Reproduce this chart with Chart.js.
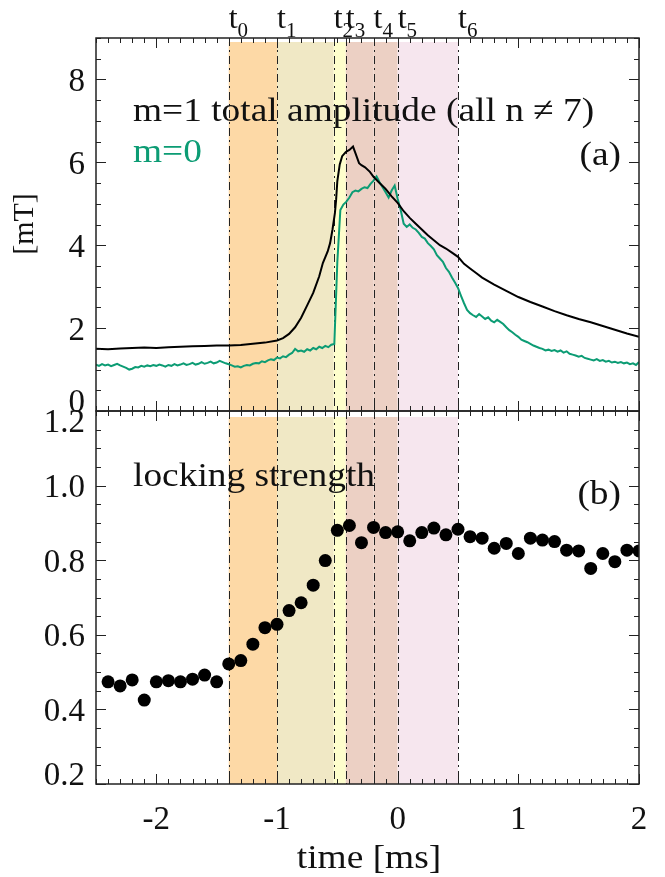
<!DOCTYPE html>
<html>
<head>
<meta charset="utf-8">
<title>m=1 amplitude and locking strength</title>
<script src="https://cdn.jsdelivr.net/npm/chart.js@4.4.1/dist/chart.umd.min.js"></script>
<style>
  html, body { margin: 0; padding: 0; background: #fff; }
  #wrap { position: relative; width: 665px; height: 877px; }
  #wrap canvas { position: absolute; left: 0; }
  #ampChart { top: 0; }
  #lockChart { top: 400px; }
</style>
</head>
<body>
<div id="wrap">
  <canvas id="ampChart" width="665" height="420"></canvas>
  <canvas id="lockChart" width="665" height="477"></canvas>
</div>
<script>
// ===============================
// DATA
// ===============================
const timeTicks = [-2, -1, 0, 1, 2];
const ampTicks = [0, 2, 4, 6, 8];
const lockTicks = [0.2, 0.4, 0.6, 0.8, 1.0, 1.2];

// phase markers t0..t6 [ms]
const phaseNames = ["0", "1", "2", "3", "4", "5", "6"];
const phaseTimes = [-1.4, -1.0, -0.53, -0.43, -0.2, 0.0, 0.5];

// m=1 total amplitude [mT]
const m1Time = [
  -2.50, -2.40, -2.30, -2.20, -2.10, -2.00, -1.90, -1.80, -1.70, -1.60,
  -1.50, -1.40, -1.30, -1.20, -1.10, -1.00, -0.95, -0.90, -0.85, -0.80,
  -0.75, -0.70, -0.65, -0.62, -0.58, -0.56, -0.54, -0.52, -0.51, -0.50,
  -0.48, -0.46, -0.43, -0.40, -0.37, -0.35, -0.32, -0.30, -0.27, -0.23,
  -0.20, -0.15, -0.10, -0.05, 0.00, 0.05, 0.10, 0.15, 0.20, 0.25,
  0.30, 0.35, 0.40, 0.45, 0.50, 0.55, 0.60, 0.65, 0.70, 0.80,
  0.90, 1.00, 1.10, 1.20, 1.30, 1.40, 1.50, 1.60, 1.70, 1.80,
  1.90, 2.00
];
const m1Amp = [
  1.50, 1.49, 1.51, 1.52, 1.53, 1.52, 1.54, 1.55, 1.56, 1.57,
  1.58, 1.58, 1.59, 1.62, 1.65, 1.70, 1.76, 1.86, 2.02, 2.25,
  2.55, 2.85, 3.25, 3.57, 3.85, 4.05, 4.38, 4.78, 5.10, 5.55,
  5.95, 6.15, 6.25, 6.30, 6.38, 6.22, 5.98, 5.93, 5.88, 5.77,
  5.65, 5.50, 5.36, 5.18, 5.02, 4.82, 4.66, 4.52, 4.38, 4.24,
  4.12, 4.00, 3.92, 3.82, 3.72, 3.55, 3.44, 3.33, 3.22, 3.05,
  2.90, 2.75, 2.63, 2.52, 2.41, 2.31, 2.22, 2.14, 2.05, 1.96,
  1.87, 1.79
];

// m=0 amplitude [mT], sampled every 0.025 ms from -2.5 ms
const m0Start = -2.5;
const m0Step = 0.025;
const m0Amp = [
  1.12, 1.09, 1.13, 1.10, 1.12, 1.08, 1.11, 1.14, 1.10, 1.07,
  1.04, 1.00, 1.02, 1.06, 1.05, 1.09, 1.07, 1.10, 1.08, 1.11,
  1.09, 1.12, 1.10, 1.07, 1.11, 1.09, 1.13, 1.10, 1.12, 1.15,
  1.11, 1.13, 1.16, 1.12, 1.14, 1.18, 1.14, 1.16, 1.19, 1.15,
  1.17, 1.21, 1.18, 1.15, 1.13, 1.10, 1.07, 1.08, 1.05, 1.09,
  1.11, 1.10, 1.14, 1.16, 1.15, 1.20, 1.18, 1.22, 1.25, 1.23,
  1.29, 1.27, 1.32, 1.30, 1.36, 1.40, 1.50, 1.44, 1.46, 1.43,
  1.49, 1.46, 1.52, 1.49, 1.55, 1.52, 1.57, 1.54, 1.60, 1.62,
  3.60, 4.85, 4.98, 5.05, 5.15, 5.28, 5.32, 5.30, 5.36, 5.40,
  5.38, 5.48, 5.56, 5.66, 5.52, 5.40, 5.28, 5.15, 5.32, 5.44,
  5.12, 4.85, 4.52, 4.44, 4.50, 4.42, 4.38, 4.30, 4.20, 4.16,
  4.05, 3.98, 3.90, 3.76, 3.68, 3.60, 3.45, 3.36, 3.22, 3.10,
  2.97, 2.78, 2.60, 2.44, 2.36, 2.31, 2.27, 2.34, 2.28, 2.22,
  2.26, 2.18, 2.14, 2.20, 2.15, 2.10, 2.02, 1.95, 1.90, 1.84,
  1.79, 1.72, 1.69, 1.66, 1.62, 1.58, 1.55, 1.52, 1.50, 1.46,
  1.48, 1.45, 1.47, 1.43, 1.46, 1.41, 1.44, 1.38, 1.36, 1.34,
  1.31, 1.33, 1.28, 1.26, 1.24, 1.22, 1.25, 1.21, 1.23, 1.19,
  1.21, 1.17, 1.19, 1.16, 1.18, 1.15, 1.17, 1.13, 1.15, 1.11,
  1.18
];

// locking strength
const lockTime = [
  -2.4, -2.3, -2.2, -2.1, -2.0, -1.9, -1.8, -1.7, -1.6, -1.5,
  -1.4, -1.3, -1.2, -1.1, -1.0, -0.9, -0.8, -0.7, -0.6, -0.5,
  -0.4, -0.3, -0.2, -0.1, 0.0, 0.1, 0.2, 0.3, 0.4, 0.5,
  0.6, 0.7, 0.8, 0.9, 1.0, 1.1, 1.2, 1.3, 1.4, 1.5,
  1.6, 1.7, 1.8, 1.9, 2.0
];
const lockValue = [
  0.474, 0.463, 0.479, 0.425, 0.474, 0.477, 0.474, 0.481, 0.492, 0.474,
  0.522, 0.531, 0.575, 0.619, 0.628, 0.665, 0.686, 0.733, 0.799, 0.880,
  0.893, 0.847, 0.888, 0.874, 0.876, 0.852, 0.874, 0.886, 0.868, 0.883,
  0.863, 0.859, 0.832, 0.845, 0.818, 0.859, 0.854, 0.850, 0.827, 0.825,
  0.778, 0.818, 0.796, 0.827, 0.825
];

// ===============================
// STYLE
// ===============================
const SERIF = '"Liberation Serif", "Times New Roman", "DejaVu Serif", serif';
const INK = "#111";
const GREEN = "#0c9c74";
// t0-t1, t1-t2, t2-t3, t3-t4, t4-t5, t5-t6
const BAND_COLORS = ["#fdd9a6", "#f0e8c5", "#fefecc", "#ecd0c4", "#ecd0c4", "#f6e6ee"];
const WIDE = 1.1;   // the annotation lettering runs a little wide

// per-canvas panel settings (kept outside chart options so nothing gets resolved as scriptable)
const panels = {
  ampChart: {
    bandInset: 4,
    yTicks: ampTicks,
    yDecimals: 0,
    yMinorStep: 0.5, yMinorFrom: 0, yMinorTo: 18, yMajorEvery: 4,
    showTime: false,
    showPhases: true,
    notes: [
      { text: "m=1 total amplitude (all n \u2260 7)", x: 133, y: 121, size: 34, sx: WIDE },
      { text: "m=0", x: 133, y: 162, size: 34, sx: WIDE, color: GREEN },
      { text: "(a)", x: 621, y: 165, size: 34, sx: WIDE, align: "right" },
      { text: "[mT]", x: 25, y: 224, size: 30, sx: 1, align: "center", middle: true, rotate: -Math.PI / 2 }
    ]
  },
  lockChart: {
    bandInset: 6,
    yTicks: lockTicks,
    yDecimals: 1,
    yMinorStep: 0.05, yMinorFrom: 4, yMinorTo: 24, yMajorEvery: 4,
    showTime: true,
    showPhases: false,
    notes: [
      { text: "locking strength", x: 133, y: 86, size: 34, sx: WIDE },
      { text: "(b)", x: 621, y: 104, size: 34, sx: WIDE, align: "right" },
      { text: "time [ms]", x: 369, y: 468, size: 34, sx: WIDE, align: "center" }
    ]
  }
};

// ===============================
// PANEL PLUGIN: bands, markers, frame, ticks, text
// ===============================
function tickLine(ctx, x0, y0, x1, y1) {
  ctx.beginPath();
  ctx.moveTo(x0, y0);
  ctx.lineTo(x1, y1);
  ctx.stroke();
}

const panelPlugin = {
  id: "panel",
  beforeDatasetsDraw(chart) {
    const o = panels[chart.canvas.id];
    const { ctx, chartArea: a } = chart;
    const xs = chart.scales.x;
    ctx.save();
    for (let i = 0; i < phaseTimes.length - 1; i++) {
      const x0 = xs.getPixelForValue(phaseTimes[i]);
      const x1 = xs.getPixelForValue(phaseTimes[i + 1]);
      ctx.fillStyle = BAND_COLORS[i];
      ctx.fillRect(x0, a.top + o.bandInset, x1 - x0, a.bottom - a.top - o.bandInset);
    }
    ctx.strokeStyle = "#222";
    ctx.lineWidth = 1;
    ctx.setLineDash([8, 4, 2, 4]);
    phaseTimes.forEach(t => {
      const px = Math.round(xs.getPixelForValue(t)) + 0.5;
      tickLine(ctx, px, a.top, px, a.bottom);
    });
    ctx.restore();
  },
  afterDatasetsDraw(chart) {
    const o = panels[chart.canvas.id];
    const { ctx, chartArea: a } = chart;
    const xs = chart.scales.x;
    const ys = chart.scales.y;
    ctx.save();

    // frame
    ctx.strokeStyle = "#222";
    ctx.lineWidth = 1.5;
    ctx.strokeRect(a.left, a.top, a.right - a.left, a.bottom - a.top);

    // x ticks, every 0.1 ms, long at whole ms, pointing inwards
    ctx.lineWidth = 1;
    for (let k = -25; k <= 20; k++) {
      const px = Math.round(xs.getPixelForValue(k / 10)) + 0.5;
      const len = k % 10 === 0 ? 10 : 5;
      tickLine(ctx, px, a.top, px, a.top + len);
      tickLine(ctx, px, a.bottom, px, a.bottom - len);
    }

    // y ticks
    for (let k = o.yMinorFrom; k <= o.yMinorTo; k++) {
      const py = Math.round(ys.getPixelForValue(k * o.yMinorStep)) + 0.5;
      const len = k % o.yMajorEvery === 0 ? 10 : 5;
      tickLine(ctx, a.left, py, a.left + len, py);
      tickLine(ctx, a.right, py, a.right - len, py);
    }

    // y tick labels
    ctx.fillStyle = INK;
    ctx.font = "33px " + SERIF;
    ctx.textAlign = "right";
    ctx.textBaseline = "middle";
    o.yTicks.forEach(v => {
      let py = ys.getPixelForValue(v) + 3;
      py = Math.min(Math.max(py, a.top + 12), a.bottom - 8);
      ctx.fillText(v.toFixed(o.yDecimals), a.left - 11, py);
    });

    // x tick labels
    if (o.showTime) {
      ctx.textAlign = "center";
      ctx.textBaseline = "alphabetic";
      timeTicks.forEach(v => {
        ctx.fillText(String(v), xs.getPixelForValue(v), a.bottom + 45);
      });
    }

    // phase labels t0..t6 above the frame
    if (o.showPhases) {
      ctx.textAlign = "left";
      ctx.textBaseline = "alphabetic";
      phaseTimes.forEach((t, i) => {
        const px = xs.getPixelForValue(t);
        ctx.font = "32px " + SERIF;
        ctx.fillText("t", px, 28);
        const w = ctx.measureText("t").width;
        ctx.font = "21px " + SERIF;
        ctx.fillText(phaseNames[i], px + w, 37);
      });
    }

    // annotations
    o.notes.forEach(n => {
      ctx.save();
      ctx.font = n.size + "px " + SERIF;
      ctx.fillStyle = n.color || INK;
      ctx.textAlign = n.align || "left";
      ctx.textBaseline = n.middle ? "middle" : "alphabetic";
      ctx.translate(n.x, n.y);
      if (n.rotate) ctx.rotate(n.rotate);
      ctx.scale(n.sx, 1);
      ctx.fillText(n.text, 0, 0);
      ctx.restore();
    });

    ctx.restore();
  }
};

// ===============================
// AMPLITUDE PANEL (a)
// ===============================
const ampChart = new Chart(document.getElementById("ampChart").getContext("2d"), {
  type: "line",
  data: {
    datasets: [
      {
        label: "m=1 total amplitude",
        data: m1Time.map((t, i) => ({ x: t, y: m1Amp[i] })),
        borderColor: "#000",
        borderWidth: 2,
        pointRadius: 0,
        tension: 0,
        clip: 0
      },
      {
        label: "m=0",
        data: m0Amp.map((v, i) => ({ x: m0Start + i * m0Step, y: v })),
        borderColor: GREEN,
        borderWidth: 2,
        pointRadius: 0,
        tension: 0,
        clip: 0
      }
    ]
  },
  options: {
    responsive: false,
    animation: false,
    events: [],
    layout: { padding: { left: 96, right: 26, top: 38, bottom: 9 } },
    scales: {
      x: { type: "linear", min: -2.5, max: 2, display: false },
      y: { type: "linear", min: 0, max: 9, display: false }
    },
    plugins: {
      legend: { display: false },
      tooltip: { enabled: false }
    }
  },
  plugins: [panelPlugin]
});

// ===============================
// LOCKING STRENGTH PANEL (b)
// ===============================
const lockChart = new Chart(document.getElementById("lockChart").getContext("2d"), {
  type: "scatter",
  data: {
    datasets: [{
      label: "locking strength",
      data: lockTime.map((t, i) => ({ x: t, y: lockValue[i] })),
      backgroundColor: "#000",
      borderWidth: 0,
      pointRadius: 6.5,
      clip: 0
    }]
  },
  options: {
    responsive: false,
    animation: false,
    events: [],
    layout: { padding: { left: 96, right: 26, top: 11, bottom: 93 } },
    scales: {
      x: { type: "linear", min: -2.5, max: 2, display: false },
      y: { type: "linear", min: 0.2, max: 1.2, display: false }
    },
    plugins: {
      legend: { display: false },
      tooltip: { enabled: false }
    }
  },
  plugins: [panelPlugin]
});
</script>
</body>
</html>
